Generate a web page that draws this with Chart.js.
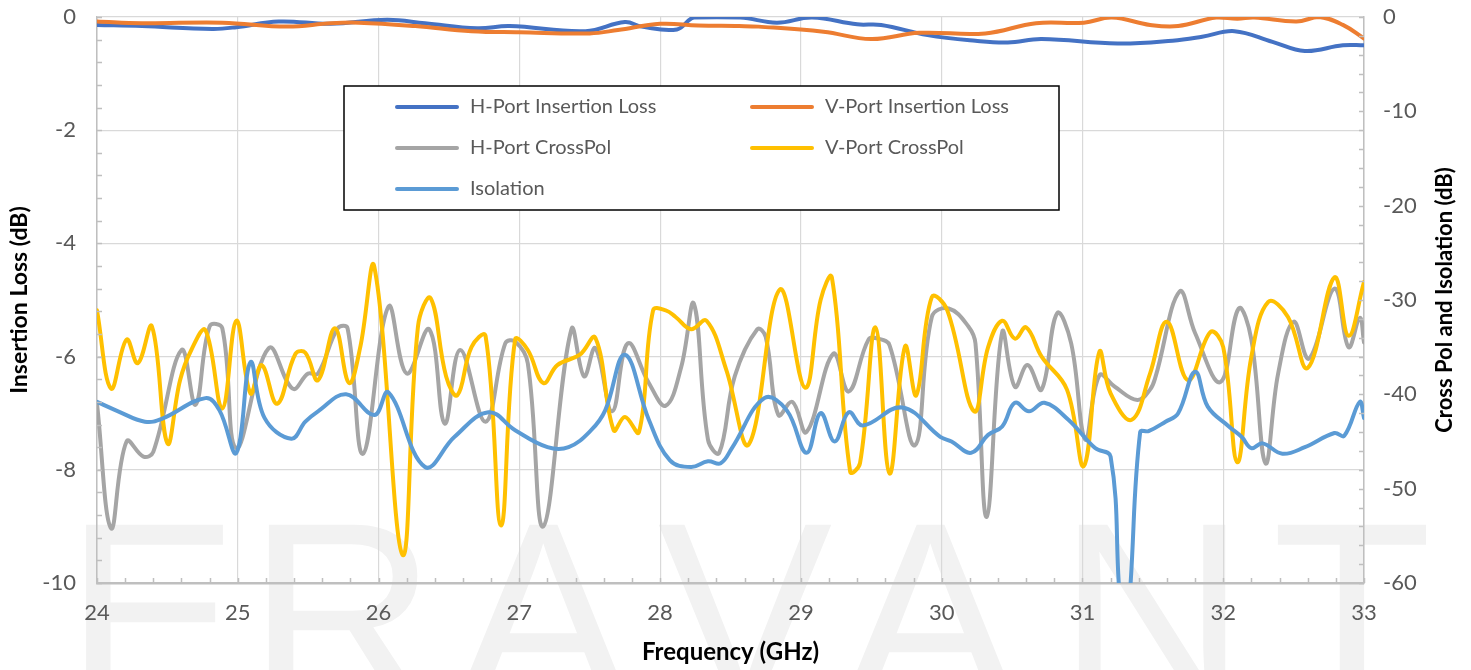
<!DOCTYPE html>
<html>
<head>
<meta charset="utf-8">
<script src="https://cdn.jsdelivr.net/npm/chart.js@4.4.1/dist/chart.umd.min.js"></script>
<style>
html,body{margin:0;padding:0;background:#fff;overflow:hidden}
#wrap{position:relative;width:1471px;height:670px}
</style>
</head>
<body>
<div id="wrap"><canvas id="c"></canvas></div>
<script>
// ---------------- data ----------------
const seriesNames = ['H-Port Insertion Loss','V-Port Insertion Loss','H-Port CrossPol','V-Port CrossPol','Isolation'];
const seriesColors = ['#4472C4','#ED7D31','#A5A5A5','#FFC000','#5B9BD5'];

const xTickValues = [24,25,26,27,28,29,30,31,32,33];
const leftTickValues = [0,-2,-4,-6,-8,-10];
const rightTickValues = [0,-10,-20,-30,-40,-50,-60];

const hilFreq = [24.00,24.32,24.82,24.99,25.29,25.66,26.06,26.33,26.70,26.93,27.47,27.75,27.87,28.12,28.24,28.57,28.83,29.08,29.40,29.57,29.90,30.24,30.47,30.71,31.25,31.64,31.85,32.08,32.35,32.58,32.85,33.00];
const hilVals = [-0.14,-0.16,-0.21,-0.18,-0.08,-0.12,-0.05,-0.11,-0.20,-0.16,-0.25,-0.09,-0.17,-0.22,-0.01,-0.01,-0.10,-0.01,-0.13,-0.14,-0.32,-0.42,-0.45,-0.39,-0.47,-0.42,-0.35,-0.25,-0.44,-0.60,-0.50,-0.50];

const vilFreq = [24.00,24.32,24.89,25.35,25.66,25.86,26.26,26.66,27.00,27.50,27.70,28.00,28.27,28.56,28.70,29.16,29.50,29.84,30.31,30.67,31.01,31.21,31.48,31.68,31.95,32.10,32.22,32.52,32.68,32.85,33.00];
const vilVals = [-0.08,-0.11,-0.10,-0.17,-0.11,-0.10,-0.16,-0.25,-0.27,-0.29,-0.23,-0.12,-0.15,-0.16,-0.17,-0.26,-0.39,-0.28,-0.29,-0.11,-0.10,-0.01,-0.14,-0.16,-0.01,-0.03,-0.01,-0.08,0.00,-0.14,-0.38];

const hcpFreq = [24.00,24.10,24.21,24.33,24.40,24.60,24.70,24.80,24.89,24.99,25.22,25.39,25.50,25.57,25.71,25.78,25.89,26.07,26.20,26.36,26.47,26.58,26.76,26.90,26.97,27.06,27.17,27.37,27.46,27.54,27.66,27.77,27.92,28.04,28.15,28.24,28.34,28.42,28.53,28.69,28.75,28.84,28.94,29.04,29.23,29.34,29.48,29.55,29.63,29.81,29.93,30.05,30.19,30.24,30.32,30.43,30.52,30.61,30.71,30.82,30.92,31.02,31.12,31.23,31.39,31.48,31.52,31.69,31.80,31.98,32.11,32.20,32.30,32.39,32.50,32.61,32.79,32.89,32.97,33.00];
const hcpVals = [-41.0,-54.2,-45.0,-46.6,-46.1,-35.3,-41.1,-32.8,-33.0,-45.7,-35.1,-39.4,-37.8,-37.8,-33.0,-33.0,-46.3,-30.7,-37.8,-33.1,-43.1,-35.3,-42.9,-34.6,-34.4,-36.7,-54.0,-33.1,-38.1,-35.1,-41.8,-34.6,-38.8,-41.2,-37.1,-30.4,-44.8,-46.2,-38.1,-33.1,-33.9,-42.2,-40.8,-44.0,-35.7,-39.7,-34.2,-34.1,-34.8,-45.4,-31.8,-30.9,-32.8,-34.6,-53.0,-33.4,-39.2,-36.9,-39.5,-31.4,-34.6,-44.8,-38.0,-39.2,-40.6,-39.5,-38.1,-29.1,-33.5,-38.7,-30.9,-34.2,-47.3,-37.8,-32.3,-36.2,-28.8,-35.0,-31.9,-34.5];

const vcpFreq = [24.00,24.10,24.21,24.29,24.39,24.50,24.59,24.67,24.77,24.89,24.99,25.09,25.17,25.28,25.41,25.48,25.57,25.69,25.79,25.87,25.97,26.17,26.28,26.37,26.48,26.56,26.66,26.76,26.87,26.97,27.06,27.17,27.27,27.43,27.54,27.67,27.75,27.85,27.95,28.04,28.11,28.22,28.33,28.47,28.63,28.85,29.03,29.14,29.22,29.35,29.42,29.53,29.63,29.74,29.82,29.93,30.04,30.23,30.33,30.43,30.52,30.60,30.71,30.89,31.01,31.12,31.20,31.35,31.48,31.60,31.75,31.91,32.00,32.10,32.20,32.32,32.46,32.60,32.79,32.89,33.00];
const vcpVals = [-31.1,-39.4,-34.2,-36.7,-32.8,-45.2,-38.5,-35.3,-33.2,-41.5,-32.2,-39.9,-36.9,-41.0,-35.7,-35.6,-38.5,-33.0,-38.8,-35.0,-26.5,-57.0,-32.8,-29.8,-38.1,-40.1,-35.0,-33.8,-53.9,-34.2,-35.3,-38.8,-36.9,-35.8,-34.0,-43.8,-42.4,-44.0,-31.1,-31.1,-31.8,-33.1,-32.2,-37.4,-45.3,-28.9,-39.3,-30.0,-27.6,-48.2,-47.3,-32.9,-48.4,-34.9,-40.1,-29.7,-31.1,-41.8,-35.0,-32.2,-34.1,-32.9,-36.0,-39.5,-47.6,-35.5,-39.9,-42.7,-37.8,-32.3,-38.5,-33.4,-35.0,-47.2,-36.0,-30.2,-31.8,-37.2,-27.6,-33.8,-28.1];

const isoFreq = [24.00,24.15,24.34,24.46,24.77,24.87,24.99,25.09,25.19,25.38,25.48,25.57,25.77,25.97,26.07,26.33,26.54,26.78,26.97,27.20,27.35,27.51,27.61,27.75,27.92,28.07,28.22,28.34,28.43,28.51,28.74,28.90,29.04,29.14,29.24,29.34,29.44,29.72,29.99,30.07,30.21,30.33,30.43,30.52,30.62,30.73,30.90,31.09,31.20,31.26,31.30,31.34,31.41,31.47,31.59,31.68,31.80,31.89,32.04,32.13,32.20,32.28,32.42,32.58,32.79,32.86,32.97,33.00];
const isoVals = [-40.8,-41.8,-42.9,-42.6,-40.4,-41.7,-46.2,-36.6,-42.5,-44.7,-42.9,-41.8,-40.0,-42.2,-39.8,-47.7,-44.5,-41.9,-43.8,-45.6,-45.6,-43.8,-41.7,-35.8,-42.7,-47.0,-47.7,-47.1,-47.3,-45.7,-40.4,-41.7,-46.2,-42.0,-45.0,-41.9,-43.3,-41.4,-44.5,-45.0,-46.2,-44.3,-43.4,-40.9,-41.8,-40.9,-42.7,-45.7,-46.6,-60.5,-68.0,-60.5,-44.0,-43.9,-42.9,-42.0,-37.6,-41.3,-43.4,-44.5,-45.7,-45.2,-46.3,-45.6,-44.1,-44.4,-40.8,-42.5];

// ---------------- helpers ----------------
function pts(xs, ys){ return xs.map((x,i)=>({x:x, y:ys[i]})); }

const FONT = "Lato, 'Open Sans', 'Liberation Sans', sans-serif";
const TICK_COLOR = '#595959';
const GRID_COLOR = '#D9D9D9';
const AXIS_COLOR = '#BFBFBF';

function mkDs(i, xs, ys, axis, order){
  return {
    label: seriesNames[i], data: pts(xs, ys), yAxisID: axis,
    borderColor: seriesColors[i], backgroundColor: seriesColors[i],
    borderWidth: 4, pointRadius: 0, pointHoverRadius: 0,
    tension: 0.4, fill: false, order: order,
    borderCapStyle: 'round', borderJoinStyle: 'round'
  };
}

// watermark behind everything
const watermark = {
  id: 'watermark',
  beforeDraw(chart){
    const ctx = chart.ctx;
    ctx.save();
    ctx.fillStyle = '#F2F2F2';
    ctx.font = "262px 'Liberation Sans', Arial, sans-serif";
    ctx.textAlign = 'center';
    ctx.textBaseline = 'alphabetic';
    const letters = ['E','R','A','V','A','N','T'];
    const centers = [152, 342, 543, 745, 930, 1152, 1352];
    letters.forEach((l,i)=>ctx.fillText(l, centers[i], 705));
    ctx.restore();
  }
};

// inside minor tick marks + right axis title + legend
const extras = {
  id: 'extras',
  afterDraw(chart){
    const ctx = chart.ctx, a = chart.chartArea;
    const xs = chart.scales.x, yl = chart.scales.yL, yr = chart.scales.yR;
    ctx.save();
    ctx.strokeStyle = AXIS_COLOR; ctx.lineWidth = 1.5;
    ctx.beginPath();
    for (let k = 0; k <= 45; k++){ const px = Math.round(xs.getPixelForValue(24 + k*0.2))+0.5; ctx.moveTo(px, a.bottom); ctx.lineTo(px, a.bottom-5); }
    for (let k = 0; k <= 25; k++){ const py = Math.round(yl.getPixelForValue(-10 + k*0.4))+0.5; ctx.moveTo(a.left, py); ctx.lineTo(a.left+5, py); }
    for (let k = 0; k <= 30; k++){ const py = Math.round(yr.getPixelForValue(-60 + k*2))+0.5; ctx.moveTo(a.right, py); ctx.lineTo(a.right-5, py); }
    ctx.stroke();

    // right axis title (reads bottom-to-top)
    ctx.save();
    ctx.translate(1445, (a.top + a.bottom)/2);
    ctx.rotate(-Math.PI/2);
    ctx.fillStyle = '#000';
    ctx.font = "bold 22px " + FONT;
    ctx.textAlign = 'center'; ctx.textBaseline = 'middle';
    ctx.fillText('Cross Pol and Isolation (dB)', 0, 0);
    ctx.restore();

    // legend box
    const box = {x:344, y:86, w:715, h:124};
    ctx.fillStyle = '#FFFFFF';
    ctx.fillRect(box.x, box.y, box.w, box.h);
    ctx.strokeStyle = '#000'; ctx.lineWidth = 1.5;
    ctx.strokeRect(box.x, box.y, box.w, box.h);
    const colX = [397, 752], rowY = [107, 148, 189];
    chart.data.datasets.forEach((ds, i)=>{
      const col = i % 2, row = Math.floor(i/2);
      const lx = colX[col], ly = rowY[row];
      ctx.strokeStyle = ds.borderColor; ctx.lineWidth = 4; ctx.lineCap = 'round';
      ctx.beginPath(); ctx.moveTo(lx, ly); ctx.lineTo(lx+60, ly); ctx.stroke();
      ctx.fillStyle = TICK_COLOR;
      ctx.font = "20px " + FONT;
      ctx.textAlign = 'left'; ctx.textBaseline = 'middle';
      ctx.fillText(ds.label, lx + 73, ly);
    });
    ctx.restore();
  }
};

const chart = new Chart(document.getElementById('c'), {
  type: 'line',
  data: {
    datasets: [
      mkDs(0, hilFreq, hilVals, 'yL', 5),
      mkDs(1, vilFreq, vilVals, 'yL', 4),
      mkDs(2, hcpFreq, hcpVals, 'yR', 3),
      mkDs(3, vcpFreq, vcpVals, 'yR', 2),
      mkDs(4, isoFreq, isoVals, 'yR', 1)
    ]
  },
  options: {
    responsive: true, maintainAspectRatio: false, animation: false,
    devicePixelRatio: 1,
    layout: { padding: { top: 17, left: 0, right: 0, bottom: 0 } },
    plugins: { legend: { display: false }, tooltip: { enabled: false } },
    scales: {
      x: {
        type: 'linear', min: 24, max: 33,
        afterFit(s){ s.height = 87; s.paddingLeft = 0; s.paddingRight = 0; },
        afterBuildTicks(s){ s.ticks = xTickValues.map(v=>({value:v})); },
        ticks: { color: TICK_COLOR, font: { family: FONT, size: 22 }, padding: 17, maxRotation: 0 },
        grid: { color: GRID_COLOR, lineWidth: 1.2, drawTicks: false },
        border: { color: AXIS_COLOR, width: 2.5 },
        title: { display: true, text: 'Frequency (GHz)', color: '#000', font: { family: FONT, size: 24, weight: 'bold' }, padding: { top: 0, bottom: 3 } }
      },
      yL: {
        type: 'linear', position: 'left', min: -10, max: 0,
        afterFit(s){ s.width = 97; s.paddingTop = 0; s.paddingBottom = 0; },
        afterBuildTicks(s){ s.ticks = leftTickValues.map(v=>({value:v})); },
        ticks: { color: TICK_COLOR, font: { family: FONT, size: 22 }, padding: 21 },
        grid: { color: GRID_COLOR, lineWidth: 1.2, drawTicks: false },
        border: { color: AXIS_COLOR, width: 1.5 },
        title: { display: true, text: 'Insertion Loss (dB)', color: '#000', font: { family: FONT, size: 23, weight: 'bold' }, padding: { top: 6, bottom: 0 } }
      },
      yR: {
        type: 'linear', position: 'right', min: -60, max: 0,
        afterFit(s){ s.width = 107; s.paddingTop = 0; s.paddingBottom = 0; },
        afterBuildTicks(s){ s.ticks = rightTickValues.map(v=>({value:v})); },
        ticks: { color: TICK_COLOR, font: { family: FONT, size: 22 }, padding: 19 },
        grid: { drawOnChartArea: false, drawTicks: false },
        border: { color: AXIS_COLOR, width: 1.5 }
      }
    }
  },
  plugins: [watermark, extras]
});
</script>
</body>
</html>
